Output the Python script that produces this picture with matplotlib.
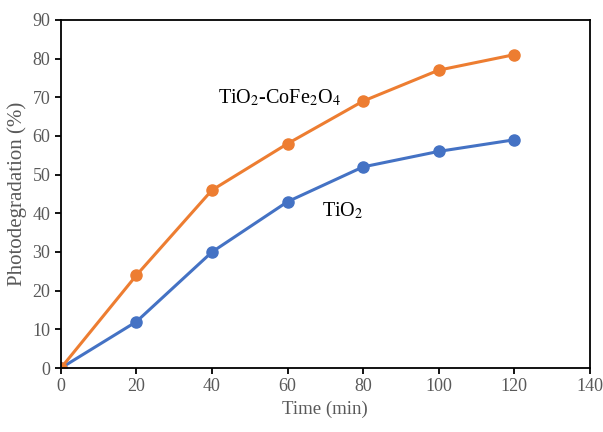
import matplotlib
matplotlib.use("Agg")
import matplotlib.pyplot as plt

time_min = [0, 20, 40, 60, 80, 100, 120]
tio2 = [0, 12, 30, 43, 52, 56, 59]
tio2_cofe2o4 = [0, 24, 46, 58, 69, 77, 81]

plt.rcParams['font.family'] = ['Liberation Serif', 'DejaVu Serif']
plt.rcParams['mathtext.fontset'] = 'stix'

gray = '#595959'

fig = plt.figure(figsize=(6.03, 4.32), dpi=100)
ax = fig.add_axes([0.101, 0.148, 0.877, 0.806])

ax.plot(time_min, tio2, color='#4472C4', lw=2.2, marker='o', ms=8)
ax.plot(time_min, tio2_cofe2o4, color='#ED7D31', lw=2.2, marker='o', ms=8)

ax.text(41.5, 69.8, 'TiO$_2$-CoFe$_2$O$_4$', fontsize=14.5, va='center', ha='left')
ax.text(69, 40.6, 'TiO$_2$', fontsize=14.5, va='center', ha='left')

ax.set_xlim(0, 140)
ax.set_ylim(0, 90)
ax.set_xticks(range(0, 141, 20))
ax.set_yticks(range(0, 91, 10))
ax.tick_params(direction='out', length=4, width=1.3, labelsize=13, labelcolor=gray)
for s in ax.spines.values():
    s.set_linewidth(1.3)
    s.set_color('black')

ax.set_xlabel('Time (min)', fontsize=13.5, color=gray)
ax.set_ylabel('Photodegradation (%)', fontsize=15, color=gray)

fig.savefig('out.png', dpi=100)
